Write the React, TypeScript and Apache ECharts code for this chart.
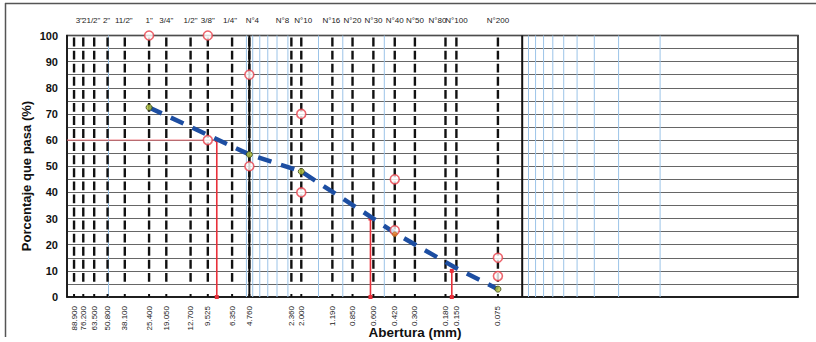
import React, { useEffect, useRef } from 'react';
import * as echarts from 'echarts';

// Sieve openings (mm) with their names and printed labels
const sieveSizes = [88.9, 76.2, 63.5, 50.8, 38.1, 25.4, 19.05, 12.7, 9.525, 6.35, 4.76, 2.36, 2.0, 1.19, 0.85, 0.6, 0.42, 0.3, 0.18, 0.15, 0.075];
const sieveNames = ['', '3"', '21/2"', '2"', '11/2"', '1"', '3/4"', '1/2"', '3/8"', '1/4"', 'N°4', 'N°8', 'N°10', 'N°16', 'N°20', 'N°30', 'N°40', 'N°50', 'N°80', 'N°100', 'N°200'];
const sizeLabels = ['88.900', '76.200', '63.500', '50.800', '38.100', '25.400', '19.050', '12.700', '9.525', '6.350', '4.760', '2.360', '2.000', '1.190', '0.850', '0.600', '0.420', '0.300', '0.180', '0.150', '0.075'];

// Grading curve
const curveSizes = [25.4, 4.76, 2.0, 0.6, 0.42, 0.15, 0.075];
const curvePassing = [72.5, 54.5, 48, 30, 24.5, 11, 3];
const pointSizes = [25.4, 4.76, 2.0, 0.075];
const pointPassing = [72.5, 54.5, 48, 3];
const orangeSizes = [0.42];
const orangePassing = [24];

// Specification limits (open red circles)
const limitSizes = [25.4, 9.525, 9.525, 4.76, 4.76, 2.0, 2.0, 0.42, 0.42, 0.075, 0.075];
const limitPassing = [100, 100, 60, 85, 50, 70, 40, 45, 25.5, 15, 8];

// D60, D30, D10
const dSizes = [8.2, 0.63, 0.162];
const dPassing = [60, 30, 10];

// Boundary lines and light grid lines
const boundarySizes = [4.76, 0.05];
const blueLineSizes = [50, 5, 4.5, 4, 3.5, 3, 2.5, 1.5, 1, 0.5, 0.045, 0.04, 0.035, 0.03, 0.025, 0.02, 0.015, 0.01, 0.005];

// x range / y ticks
const xMin = 0.0005;
const xMax = 100;
const yTicks = [0, 10, 20, 30, 40, 50, 60, 70, 80, 90, 100];

const nameDx = [0, -4, -3, -1, -1, 0, 0, 0, 0, -2, 3, -9, 2, -1, 0, 0, 0, 0, -8, 0, 0];
const FONT = 'Liberation Sans, Arial, sans-serif';

export default function App() {
  const ref = useRef<HTMLDivElement>(null);
  useEffect(() => {
    if (!ref.current) return;
    const chart = echarts.init(ref.current, null, { renderer: 'svg' });

    const vlineRender = (color: string, width: number) => (params: any, api: any) => {
      const v = api.value(0);
      const t = api.coord([v, 100]);
      const b = api.coord([v, 0]);
      return {
        type: 'line',
        shape: { x1: t[0], y1: t[1], x2: b[0], y2: b[1] },
        style: { stroke: color, lineWidth: width },
      };
    };

    const sieveRender = (params: any, api: any) => {
      const i = params.dataIndex;
      const v = api.value(0);
      const t = api.coord([v, 100]);
      const b = api.coord([v, 0]);
      const f = api.coord([v, 5]);
      const sp = (b[1] - t[1]) / 20;
      const dash = sp * 0.68;
      const gap = sp - dash;
      const children: any[] = [
        {
          type: 'line',
          shape: { x1: t[0], y1: t[1], x2: f[0], y2: f[1] },
          style: { stroke: '#111', lineWidth: 2.4, lineDash: [dash, gap], lineDashOffset: sp - gap / 2 },
        },
        {
          type: 'line',
          shape: { x1: b[0], y1: b[1] - 3, x2: b[0], y2: b[1] },
          style: { stroke: '#111', lineWidth: 2 },
        },
        {
          type: 'text',
          x: b[0],
          y: b[1] + 9,
          rotation: Math.PI / 2,
          style: { text: sizeLabels[i], fill: '#222', fontSize: 8, fontFamily: FONT, align: 'right', verticalAlign: 'middle' },
        },
      ];
      if (sieveNames[i]) {
        children.push({
          type: 'text',
          x: t[0] + nameDx[i],
          y: t[1] - 15,
          style: { text: sieveNames[i], fill: '#222', fontSize: 8, fontFamily: FONT, align: 'center', verticalAlign: 'middle' },
        });
      }
      return { type: 'group', children };
    };

    const dSeries: any[] = dSizes.map((d, i) => ({
      type: 'line',
      data: [[d, 0], [d, dPassing[i]]],
      symbol: 'rect',
      symbolSize: 4,
      showSymbol: true,
      itemStyle: { color: '#e8303a' },
      lineStyle: { color: '#e8303a', width: 1.6 },
      z: 4,
      silent: true,
    }));

    chart.setOption({
      animation: false,
      backgroundColor: '#ffffff',
      grid: {
        left: 67,
        right: 18,
        top: 35.5,
        bottom: 45,
        show: true,
        borderColor: '#111',
        borderWidth: 1.5,
        backgroundColor: 'transparent',
      },
      xAxis: {
        type: 'log',
        logBase: 10,
        min: xMin,
        max: xMax,
        inverse: true,
        axisLabel: { show: false },
        axisTick: { show: false },
        splitLine: { show: false },
        minorSplitLine: { show: false },
        axisLine: { show: true, lineStyle: { color: '#111', width: 1.5 } },
      },
      yAxis: {
        type: 'value',
        min: 0,
        max: 100,
        interval: 5,
        axisLine: { show: true, lineStyle: { color: '#111', width: 1.5 } },
        axisTick: { show: false },
        axisLabel: {
          margin: 9,
          color: '#111',
          fontSize: 11,
          fontWeight: 'bold',
          fontFamily: FONT,
          formatter: (v: number) => (yTicks.indexOf(v) >= 0 ? String(v) : ''),
        },
        splitLine: { show: true, lineStyle: { color: '#555', width: 0.9 } },
      },
      graphic: [
        {
          type: 'line',
          shape: { x1: 5, y1: 3.5, x2: 816, y2: 3.5 },
          style: { stroke: '#555', lineWidth: 1.5 },
        },
        {
          type: 'line',
          shape: { x1: 5.5, y1: 3, x2: 5.5, y2: 337 },
          style: { stroke: '#555', lineWidth: 1.5 },
        },
        {
          type: 'text',
          x: 26,
          y: 176,
          rotation: Math.PI / 2,
          style: {
            text: 'Porcentaje que pasa (%)',
            fill: '#111',
            fontSize: 13,
            fontWeight: 'bold',
            fontFamily: FONT,
            align: 'center',
            verticalAlign: 'middle',
          },
        },
        {
          type: 'text',
          x: 415,
          y: 332,
          style: {
            text: 'Abertura (mm)',
            fill: '#111',
            fontSize: 13.5,
            fontWeight: 'bold',
            fontFamily: FONT,
            align: 'center',
            verticalAlign: 'middle',
          },
        },
      ],
      series: [
        {
          type: 'custom',
          renderItem: vlineRender('#9cc4e8', 1),
          data: blueLineSizes.map((v) => [v, 0]),
          z: 1,
          silent: true,
        },
        {
          type: 'custom',
          renderItem: sieveRender,
          data: sieveSizes.map((v) => [v, 0]),
          z: 2,
          silent: true,
        },
        {
          type: 'custom',
          renderItem: vlineRender('#111', 2),
          data: boundarySizes.map((v) => [v, 0]),
          z: 3,
          silent: true,
        },
        {
          type: 'line',
          data: [[xMax, dPassing[0]], [dSizes[0], dPassing[0]]],
          symbol: 'none',
          lineStyle: { color: '#f07078', width: 1 },
          z: 4,
          silent: true,
        },
        ...dSeries,
        {
          type: 'line',
          data: curveSizes.map((s, i) => [s, curvePassing[i]]),
          symbol: 'none',
          lineStyle: { color: '#1d4ea2', width: 4.5, type: [14, 10], cap: 'butt' },
          z: 5,
          silent: true,
        },
        {
          type: 'scatter',
          data: limitSizes.map((s, i) => [s, limitPassing[i]]),
          symbol: 'circle',
          symbolSize: 9,
          itemStyle: { color: '#ffffff', borderColor: '#e8404a', borderWidth: 1.6 },
          z: 6,
          silent: true,
        },
        {
          type: 'scatter',
          data: orangeSizes.map((s, i) => [s, orangePassing[i]]),
          symbol: 'circle',
          symbolSize: 5,
          itemStyle: { color: '#e07b20', borderColor: '#8a4a10', borderWidth: 0.5 },
          z: 7,
          silent: true,
        },
        {
          type: 'scatter',
          data: pointSizes.map((s, i) => [s, pointPassing[i]]),
          symbol: 'circle',
          symbolSize: 6,
          itemStyle: { color: '#b4c43a', borderColor: '#3a4512', borderWidth: 1 },
          z: 8,
          silent: true,
        },
      ],
    });

    return () => chart.dispose();
  }, []);

  return (
    <div
      ref={ref}
      style={{ position: 'fixed', left: 0, top: 0, width: 816, height: 342, background: '#fff' }}
    />
  );
}
